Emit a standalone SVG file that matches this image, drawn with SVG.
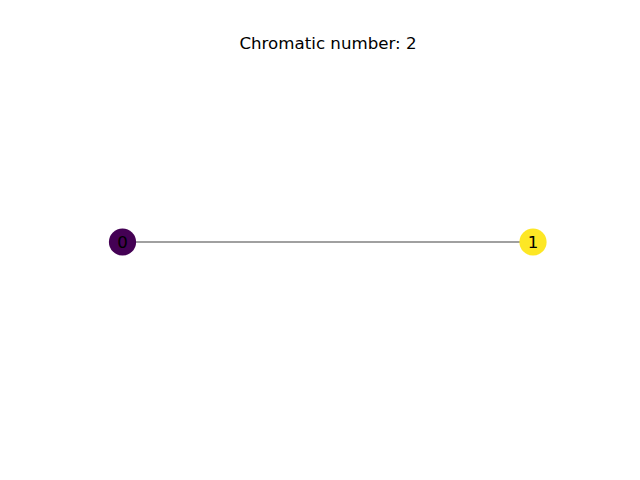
<svg xmlns="http://www.w3.org/2000/svg" width="640" height="480" viewBox="0 0 640 480">
<style>
text { font-family: "DejaVu Sans", sans-serif; fill: #000; }
.lbl { font-size: 16.67px; text-anchor: middle; }
.edge { stroke: #808080; stroke-width: 1.39; fill: none; }
</style>
<rect width="640" height="480" fill="#fff"/>
<text x="328" y="49" class="lbl">Chromatic number: 2</text>
<g id="edges">
<line class="edge" x1="122.5" y1="242" x2="533" y2="242"/>
</g>
<g id="node0">
<circle cx="122.5" cy="242" r="13.6" fill="#440154"/>
<text x="122.5" y="248" class="lbl">0</text>
</g>
<g id="node1">
<circle cx="533" cy="242" r="13.6" fill="#fde725"/>
<text x="533" y="248" class="lbl">1</text>
</g>
</svg>
